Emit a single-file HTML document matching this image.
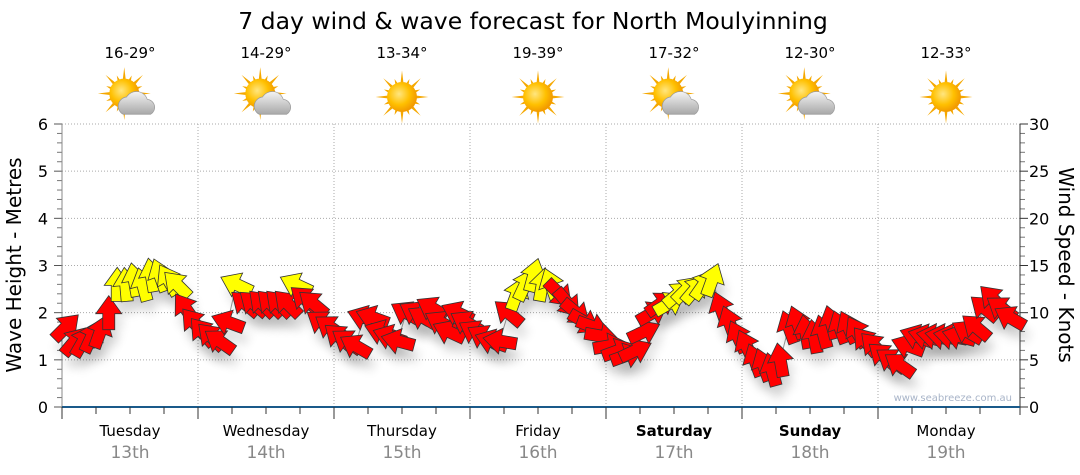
<!DOCTYPE html>
<html><head><meta charset="utf-8"><style>
body{margin:0;background:#fff;}
svg{display:block;font-family:"DejaVu Sans","Liberation Sans",sans-serif;}
</style></head><body>
<svg id="c" width="1080" height="475">
<defs>
<radialGradient id="sunG" cx="0.4" cy="0.4" r="0.6"><stop offset="0" stop-color="#ffe680"/><stop offset="0.6" stop-color="#ffc000"/><stop offset="1" stop-color="#f29a00"/></radialGradient>
<linearGradient id="cloudG" x1="0" y1="0" x2="0" y2="1"><stop offset="0" stop-color="#f4f4f4"/><stop offset="1" stop-color="#a8a8a8"/></linearGradient>
<filter id="sh" x="-50%" y="-50%" width="200%" height="200%"><feGaussianBlur stdDeviation="5"/></filter>
</defs>
<text x="533" y="29" text-anchor="middle" font-size="23.5" fill="#000">7 day wind &amp; wave forecast for North Moulyinning</text>
<g id="grid"></g><g id="axes"></g><g id="icons"></g><g id="arrows"></g>
<text x="1012" y="401" text-anchor="end" font-size="10" fill="#a8b4c8">www.seabreeze.com.au</text>
<text transform="translate(21,265) rotate(-90)" text-anchor="middle" font-size="20">Wave Height - Metres</text>
<text transform="translate(1059,265) rotate(90)" text-anchor="middle" font-size="20">Wind Speed - Knots</text>
</svg>
<script>
const days=["Tuesday","Wednesday","Thursday","Friday","Saturday","Sunday","Monday"];
const dates=["13th","14th","15th","16th","17th","18th","19th"];
const temps=["16-29°","14-29°","13-34°","19-39°","17-32°","12-30°","12-33°"];
const cloudy=[1,1,0,0,1,1,0];
const waveTicks=[0,1,2,3,4,5,6];
const knotTicks=[0,5,10,15,20,25,30];
const windKnots=[
 8.5,7,7,7.5,8,10,13,13,13.5,13,14,14,13.5,13,10.5,9,
 8,7.5,7,9,13,11,11,11,11,11,11,13,11.5,11,9,8.5,
 7.5,7,6.5,9.5,9.5,8,7.5,7,10,10,9.5,10.5,9,8,10,9,
 8,7.5,7,7,10,12,13,14,13,13,12,11,10,9,8.5,7.5,
 6.5,6,5.5,6,8,10,11,11,12,12.5,12.5,13,13.5,10.5,9,7.5,
 6.5,5,4.5,4,5,8.5,9,8,7.5,8,9,8.5,8.5,8,7,6.5,
 5.5,5,4.5,6.5,7.5,7.5,7.5,7.5,7.5,7.5,8,8.5,10.5,11.5,10.5,9.5];
const windDir=[
 45,40,30,25,20,0,0,-5,-10,-15,-10,-20,-30,-45,-35,-40,
 -40,-45,-55,-70,-65,-50,-50,-45,-45,-45,-45,-65,-50,-50,-55,-55,
 -50,-55,-60,-70,-70,-70,-70,-75,-60,-60,-60,-60,-60,-65,-65,-60,
 -60,-60,-70,-80,-50,20,25,15,10,-20,135,140,130,120,110,100,
 80,70,70,65,65,60,55,60,50,45,40,35,20,-20,-20,-25,
 -25,-20,-20,-15,-10,-20,-20,-10,-10,-15,-15,-20,-25,-30,-40,-45,
 -50,-55,-55,-70,-70,-75,-80,-80,-80,-75,-60,-50,-50,-45,-55,-60];
const windYellow=[
 0,0,0,0,0,0,1,1,1,1,1,1,1,1,0,0,
 0,0,0,0,1,0,0,0,0,0,0,1,0,0,0,0,
 0,0,0,0,0,0,0,0,0,0,0,0,0,0,0,0,
 0,0,0,0,0,1,1,1,1,1,0,0,0,0,0,0,
 0,0,0,0,0,0,0,1,1,1,1,1,1,0,0,0,
 0,0,0,0,0,0,0,0,0,0,0,0,0,0,0,0,
 0,0,0,0,0,0,0,0,0,0,0,0,0,0,0,0];
const NS="http://www.w3.org/2000/svg";
const X0=62,DW=136,X1=1020,Y0=407,YT=124,PER=16;
const yM=m=>Y0-(Y0-YT)*m/6, yK=k=>Y0-(Y0-YT)*k/30;
function mk(tag,at,parent){const e=document.createElementNS(NS,tag);for(const k in at)e.setAttribute(k,at[k]);parent.appendChild(e);return e;}
const grid=document.getElementById('grid'),axes=document.getElementById('axes'),icons=document.getElementById('icons'),arrows=document.getElementById('arrows');
waveTicks.forEach(m=>{
  if(m>0){const l=mk('line',{x1:X0,x2:X1,y1:yM(m),y2:yM(m),stroke:'#aaa','stroke-dasharray':'1,2'},grid);
  
  }
  const t=mk('text',{x:48,y:yM(m)+6,'text-anchor':'end','font-size':16},axes);t.textContent=m;
  
  
  mk('line',{x1:X0-8,x2:X0,y1:yM(m),y2:yM(m),stroke:'#555'},axes);
  for(let j=1;j<5&&m<6;j++)mk('line',{x1:X0-5,x2:X0,y1:yM(m+j/5),y2:yM(m+j/5),stroke:'#777'},axes);
});
knotTicks.forEach(k=>{
  const t=mk('text',{x:1029,y:yK(k)+6,'font-size':16},axes);t.textContent=k;
  
  
  mk('line',{x1:X1,x2:X1+8,y1:yK(k),y2:yK(k),stroke:'#333'},axes);
  for(let j=1;j<5&&k<30;j++)mk('line',{x1:X1,x2:X1+5,y1:yK(k+j),y2:yK(k+j),stroke:'#777'},axes);
});
mk('line',{x1:X0,x2:X0,y1:YT,y2:Y0,stroke:'#888'},axes);
mk('line',{x1:X1,x2:X1,y1:YT,y2:Y0+8,stroke:'#333'},axes);
mk('line',{x1:X0,x2:X1,y1:Y0,y2:Y0,stroke:'#1a5a8a','stroke-width':2},axes);
days.forEach((d,i)=>{
  const xs=X0+DW*i, xc=xs+DW/2;
  if(i>0){const l=mk('line',{x1:xs,x2:xs,y1:YT,y2:Y0,stroke:'#aaa','stroke-dasharray':'1,2'},grid);
  
  }
  for(let q=0;q<4;q++)mk('line',{x1:xs+q*DW/4,x2:xs+q*DW/4,y1:Y0,y2:Y0+(q==0?12:7),stroke:'#333'},axes);
  const wk=(d==="Saturday"||d==="Sunday");
  const t=mk('text',{x:xc,y:436,'text-anchor':'middle','font-size':15,'font-weight':wk?'bold':'normal'},axes);t.textContent=d;
  
  
  const t2=mk('text',{x:xc,y:458,'text-anchor':'middle','font-size':17,fill:'#888'},axes);t2.textContent=dates[i];
  
  
  const t3=mk('text',{x:xc,y:58,'text-anchor':'middle','font-size':15},icons);t3.textContent=temps[i];
  
  
  const g=mk('g',{transform:`translate(${xc},97) scale(1.15)`},icons);
  
  
  const cx=cloudy[i]?-5:0, cy=cloudy[i]?-3:0;
  for(let r=0;r<16;r++){const a=r*Math.PI/8,L=r%2?17:23;
    mk('polygon',{points:`${cx+Math.cos(a-0.13)*11},${cy+Math.sin(a-0.13)*11} ${cx+Math.cos(a)*L},${cy+Math.sin(a)*L} ${cx+Math.cos(a+0.13)*11},${cy+Math.sin(a+0.13)*11}`,fill:'#f5a800'},g);}
  mk('circle',{cx:cx,cy:cy,r:13,fill:'url(#sunG)'},g);
  if(cloudy[i]){mk('path',{d:'M-6,15 a8,8 0 0 1 3,-15 a10,10 0 0 1 18,2 a7,7 0 0 1 3,13 z',fill:'url(#cloudG)',stroke:'#999','stroke-width':0.6},g);}
});
const pts=windKnots.map((k,i)=>[X0+(i+0.5)*DW/PER,yK(k)]);
mk('polyline',{points:pts.map(p=>p.join(',')).join(' '),fill:'none',stroke:'#999','stroke-width':1},arrows);
const AP="-6,17 6,17 6,1 13,1 0,-17 -13,1 -6,1";
windKnots.forEach((k,i)=>{
  const [x,y]=pts[i];
  mk('polygon',{points:AP,transform:`translate(${x+4},${y+12}) rotate(${windDir[i]})`,fill:'#000',opacity:0.12,filter:'url(#sh)'},arrows);
});
windKnots.forEach((k,i)=>{
  const [x,y]=pts[i];
  const a=mk('polygon',{points:AP,transform:`translate(${x},${y}) rotate(${windDir[i]})`,fill:windYellow[i]?'#ffff00':'#ff0000',stroke:'#333','stroke-width':0.8},arrows);
  
  
});
</script>
</body></html>
